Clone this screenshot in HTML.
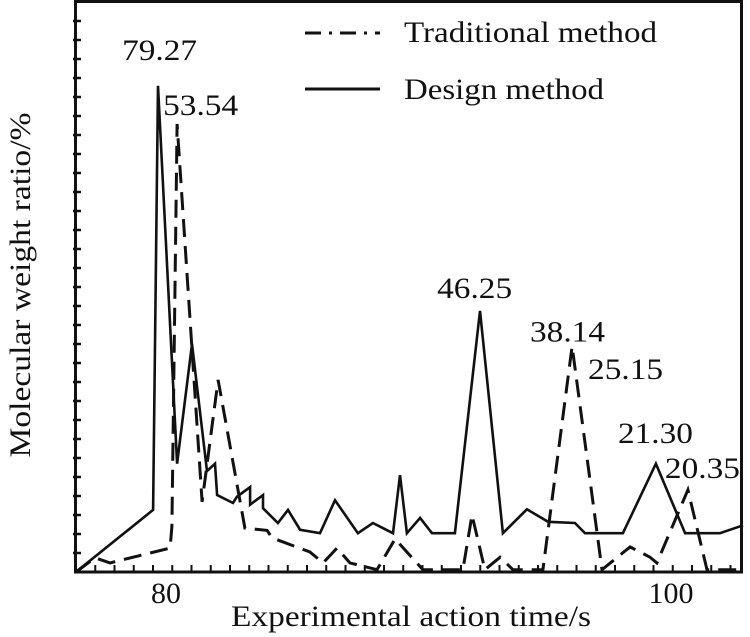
<!DOCTYPE html>
<html><head><meta charset="utf-8"><style>
html,body{margin:0;padding:0;background:#fff;}
svg{display:block;}
text{font-family:"Liberation Serif","Times New Roman",serif;}
</style></head><body>
<svg id="chart" width="750" height="637" viewBox="0 0 750 637" xmlns="http://www.w3.org/2000/svg">
<rect x="0" y="0" width="750" height="637" fill="#fff"/>
<g id="ticks"></g>
<g id="series"></g>
<rect x="75.5" y="1.5" width="666" height="570.5" fill="none" stroke="#111" stroke-width="3"/>
<g>
<line x1="305" y1="33" x2="380" y2="33" stroke="#111" stroke-width="3" stroke-dasharray="16,8,3,8"/>
<text x="404" y="42" font-size="30" fill="#111" textLength="253" lengthAdjust="spacingAndGlyphs">Traditional method</text>
<line x1="305" y1="89" x2="380" y2="89" stroke="#111" stroke-width="3"/>
<text x="404" y="99" font-size="30" fill="#111" textLength="200" lengthAdjust="spacingAndGlyphs">Design method</text>
</g>
<g id="labels"></g>
<text x="166" y="603" font-size="30" fill="#111" text-anchor="middle">80</text>
<text x="671" y="603" font-size="30" fill="#111" text-anchor="middle">100</text>
<text x="411" y="626" font-size="30" fill="#111" text-anchor="middle" textLength="360" lengthAdjust="spacingAndGlyphs">Experimental action time/s</text>
<text transform="translate(30,285) rotate(-90)" font-size="30" fill="#111" text-anchor="middle" textLength="345" lengthAdjust="spacingAndGlyphs">Molecular weight ratio/%</text>
</svg>
<script>
const designX=[76.47,79.46,79.65,80.39,80.97,81.55,81.86,81.94,82.56,82.71,83.22,83.22,83.72,83.72,84.30,84.69,85.16,85.93,86.51,87.40,87.98,88.76,89.03,89.30,89.81,90.27,91.16,92.13,93.02,93.95,94.77,95.81,96.20,97.67,98.95,100.08,101.43,102.33];
const designY=[0,10.9,85.3,19.0,40.0,17.7,19.0,13.5,12.1,13.2,14.9,11.8,13.5,11.2,8.6,10.9,7.4,6.8,12.6,6.8,8.6,6.8,17,6.8,9.5,6.8,6.8,45.8,6.8,11.0,8.8,8.6,6.8,6.8,19.0,6.8,6.8,8.2];
const tradX=[76.47,77.21,77.79,80.12,80.19,80.39,81.36,81.98,83.02,83.88,84.07,85.54,86.05,86.59,87.09,88.14,88.84,89.92,91.47,91.82,92.32,92.91,93.41,94.57,95.70,96.86,97.95,98.72,98.99,100.19,100.93,102.33];
const tradY=[0,2.5,1.6,4.2,8,78.6,12.3,33.7,7.7,7.3,6.0,3.5,1.6,4.2,1.6,0.4,5.8,0.4,0.4,10.0,0.4,2.6,0.4,0.4,39.6,0.4,4.4,2.6,1.6,14.4,0.4,0.4];
const labelText=["79.27","53.54","46.25","38.14","25.15","21.30","20.35"];
const labelX=[78.26,79.85,90.47,94.07,96.32,97.48,99.30];
const labelY=[89.8,80.2,48.1,40.4,33.9,22.6,16.5];

function x(v){return 167+(v-80)*25.8;}
function y(v){return 572-v*5.7;}
const NS="http://www.w3.org/2000/svg";
const ticks=document.getElementById('ticks');
for(let i=0;i<30;i++){
  const ty=572-19*(i+1); if(ty<10)break;
  const t=document.createElementNS(NS,'line');
  
  
  t.setAttribute('x1',73);t.setAttribute('x2',81);t.setAttribute('y1',ty);t.setAttribute('y2',ty);
  t.setAttribute('stroke','#111');t.setAttribute('stroke-width','2.5');
  ticks.appendChild(t);
}
for(let i=1;i<35;i++){
  const tx=76+19.25*i; if(tx>738)break;
  const t=document.createElementNS(NS,'line');
  
  
  t.setAttribute('x1',tx);t.setAttribute('x2',tx);t.setAttribute('y1',565);t.setAttribute('y2',572);
  t.setAttribute('stroke','#111');t.setAttribute('stroke-width','2');
  ticks.appendChild(t);
}
const series=document.getElementById('series');
function path(xs,ys){return xs.map((v,i)=>(i?'L':'M')+x(v).toFixed(1)+','+y(ys[i]).toFixed(1)).join(' ');}
const p1=document.createElementNS(NS,'path');


p1.setAttribute('d',path(tradX,tradY));
p1.setAttribute('fill','none');p1.setAttribute('stroke','#111');p1.setAttribute('stroke-width','3');
p1.setAttribute('stroke-dasharray','18,9');
series.appendChild(p1);
const p2=document.createElementNS(NS,'path');


p2.setAttribute('d',path(designX,designY));
p2.setAttribute('fill','none');p2.setAttribute('stroke','#111');p2.setAttribute('stroke-width','2.6');
series.appendChild(p2);
const labels=document.getElementById('labels');
labelText.forEach((s,i)=>{
  const t=document.createElementNS(NS,'text');
  
  
  t.setAttribute('x',x(labelX[i]));t.setAttribute('y',y(labelY[i]));
  t.setAttribute('font-size','30');t.setAttribute('fill','#111');
  t.setAttribute('textLength','75');t.setAttribute('lengthAdjust','spacingAndGlyphs');
  t.textContent=s;
  labels.appendChild(t);
});
</script>
</body></html>
